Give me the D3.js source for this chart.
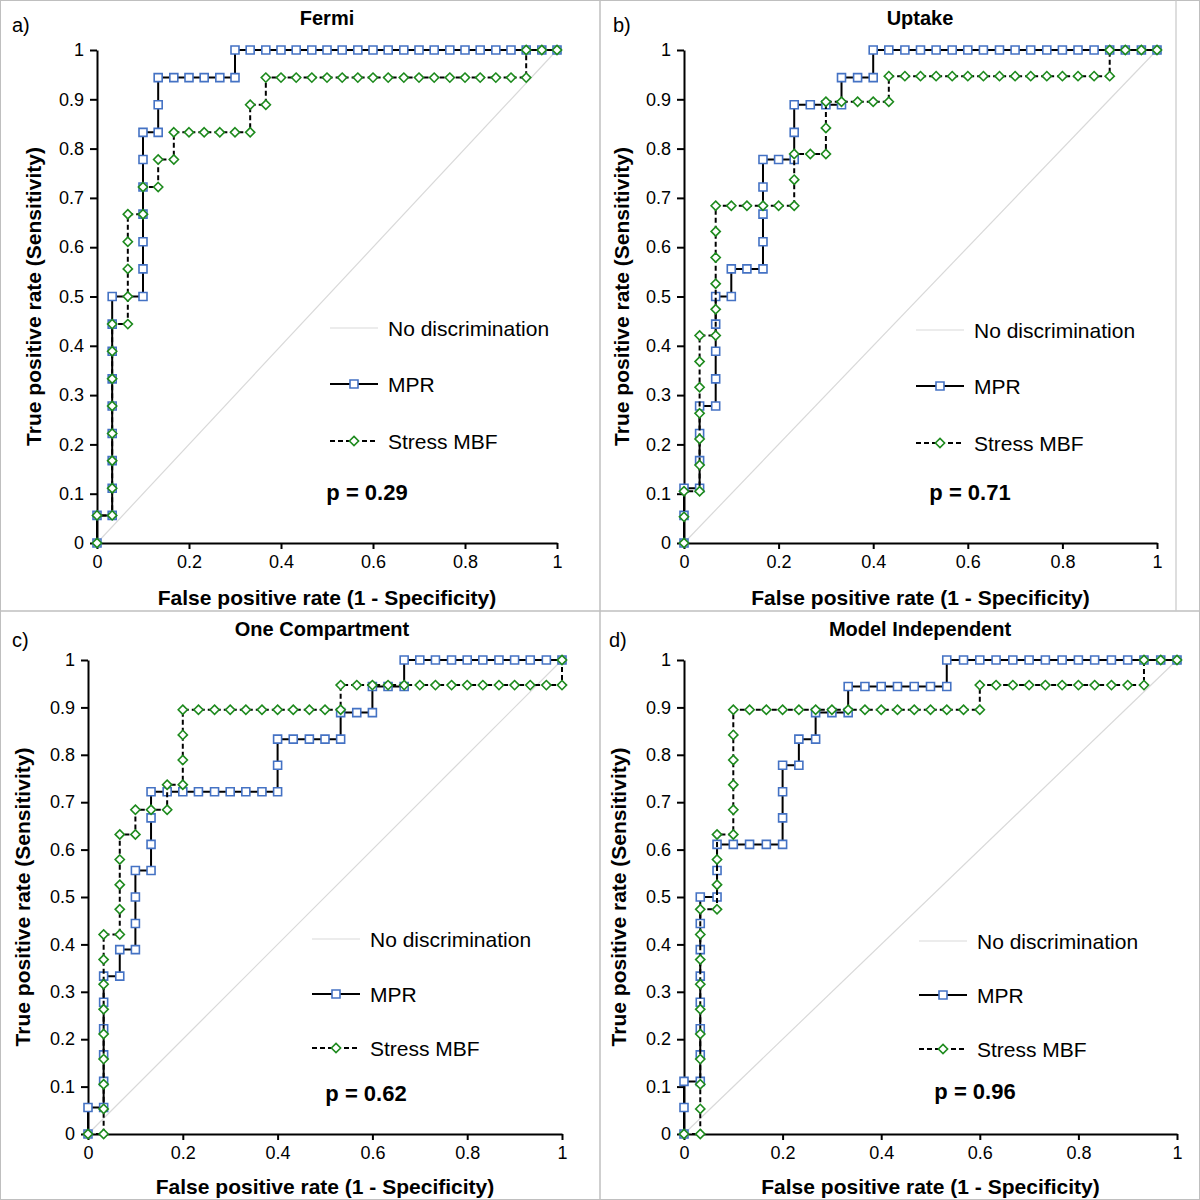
<!DOCTYPE html>
<html><head><meta charset="utf-8">
<script src="https://cdn.jsdelivr.net/npm/d3@7"></script>
<style>
body{margin:0;background:#fff}
svg{display:block}
text{font-family:"Liberation Sans",Arial,sans-serif;fill:#000}
</style>
</head><body>
<svg id="chart" width="1200" height="1200"></svg>
<script>
// ---------- data ----------
const xTickValues = [0, 0.2, 0.4, 0.6, 0.8, 1];
const yTickValues = [0, 0.1, 0.2, 0.3, 0.4, 0.5, 0.6, 0.7, 0.8, 0.9, 1];
const panelLetters = ["a)", "b)", "c)", "d)"];
const panelTitles = ["Fermi", "Uptake", "One Compartment", "Model Independent"];
const pValues = ["p = 0.29", "p = 0.71", "p = 0.62", "p = 0.96"];
const seriesNames = ["No discrimination", "MPR", "Stress MBF"];
const xAxisTitle = "False positive rate (1 - Specificity)";
const yAxisTitle = "True positive rate (Sensitivity)";
const noDiscrimination = [[0, 0], [1, 1]];

const fermiMPR = [[0,0],[0,.056],[.033,.056],[.033,.111],[.033,.167],[.033,.222],[.033,.278],[.033,.333],[.033,.389],[.033,.444],[.033,.5],[.1,.5],[.1,.556],[.1,.611],[.1,.667],[.1,.722],[.1,.778],[.1,.833],[.133,.833],[.133,.889],[.133,.944],[.167,.944],[.2,.944],[.233,.944],[.267,.944],[.3,.944],[.3,1],[.333,1],[.367,1],[.4,1],[.433,1],[.467,1],[.5,1],[.533,1],[.567,1],[.6,1],[.633,1],[.667,1],[.7,1],[.733,1],[.767,1],[.8,1],[.833,1],[.867,1],[.9,1],[.933,1],[.967,1],[1,1]];
const fermiMBF = [[0,0],[0,.056],[.033,.056],[.033,.111],[.033,.167],[.033,.222],[.033,.278],[.033,.333],[.033,.389],[.033,.444],[.067,.444],[.067,.5],[.067,.556],[.067,.611],[.067,.667],[.1,.667],[.1,.722],[.133,.722],[.133,.778],[.167,.778],[.167,.833],[.2,.833],[.233,.833],[.267,.833],[.3,.833],[.333,.833],[.333,.889],[.367,.889],[.367,.944],[.4,.944],[.433,.944],[.467,.944],[.5,.944],[.533,.944],[.567,.944],[.6,.944],[.633,.944],[.667,.944],[.7,.944],[.733,.944],[.767,.944],[.8,.944],[.833,.944],[.867,.944],[.9,.944],[.933,.944],[.933,1],[.967,1],[1,1]];
const uptakeMPR = [[0,0],[0,.056],[0,.111],[.033,.111],[.033,.167],[.033,.222],[.033,.278],[.067,.278],[.067,.333],[.067,.389],[.067,.444],[.067,.5],[.1,.5],[.1,.556],[.133,.556],[.167,.556],[.167,.611],[.167,.667],[.167,.722],[.167,.778],[.2,.778],[.233,.778],[.233,.833],[.233,.889],[.267,.889],[.3,.889],[.333,.889],[.333,.944],[.367,.944],[.4,.944],[.4,1],[.433,1],[.467,1],[.5,1],[.533,1],[.567,1],[.6,1],[.633,1],[.667,1],[.7,1],[.733,1],[.767,1],[.8,1],[.833,1],[.867,1],[.9,1],[.933,1],[.967,1],[1,1]];
const uptakeMBF = [[0,0],[0,.053],[0,.105],[.033,.105],[.033,.158],[.033,.211],[.033,.263],[.033,.316],[.033,.368],[.033,.421],[.067,.421],[.067,.474],[.067,.526],[.067,.579],[.067,.632],[.067,.684],[.1,.684],[.133,.684],[.167,.684],[.2,.684],[.233,.684],[.233,.737],[.233,.789],[.267,.789],[.3,.789],[.3,.842],[.3,.895],[.333,.895],[.367,.895],[.4,.895],[.433,.895],[.433,.947],[.467,.947],[.5,.947],[.533,.947],[.567,.947],[.6,.947],[.633,.947],[.667,.947],[.7,.947],[.733,.947],[.767,.947],[.8,.947],[.833,.947],[.867,.947],[.9,.947],[.9,1],[.933,1],[.967,1],[1,1]];
const compartmentMPR = [[0,0],[0,.056],[.033,.056],[.033,.111],[.033,.167],[.033,.222],[.033,.278],[.033,.333],[.067,.333],[.067,.389],[.1,.389],[.1,.444],[.1,.5],[.1,.556],[.133,.556],[.133,.611],[.133,.667],[.133,.722],[.167,.722],[.2,.722],[.233,.722],[.267,.722],[.3,.722],[.333,.722],[.367,.722],[.4,.722],[.4,.778],[.4,.833],[.433,.833],[.467,.833],[.5,.833],[.533,.833],[.533,.889],[.567,.889],[.6,.889],[.6,.944],[.633,.944],[.667,.944],[.667,1],[.7,1],[.733,1],[.767,1],[.8,1],[.833,1],[.867,1],[.9,1],[.933,1],[.967,1],[1,1]];
const compartmentMBF = [[0,0],[.033,0],[.033,.053],[.033,.105],[.033,.158],[.033,.211],[.033,.263],[.033,.316],[.033,.368],[.033,.421],[.067,.421],[.067,.474],[.067,.526],[.067,.579],[.067,.632],[.1,.632],[.1,.684],[.133,.684],[.167,.684],[.167,.737],[.2,.737],[.2,.789],[.2,.842],[.2,.895],[.233,.895],[.267,.895],[.3,.895],[.333,.895],[.367,.895],[.4,.895],[.433,.895],[.467,.895],[.5,.895],[.533,.895],[.533,.947],[.567,.947],[.6,.947],[.633,.947],[.667,.947],[.7,.947],[.733,.947],[.767,.947],[.8,.947],[.833,.947],[.867,.947],[.9,.947],[.933,.947],[.967,.947],[1,.947],[1,1]];
const independentMPR = [[0,0],[0,.056],[0,.111],[.033,.111],[.033,.167],[.033,.222],[.033,.278],[.033,.333],[.033,.389],[.033,.444],[.033,.5],[.067,.5],[.067,.556],[.067,.611],[.1,.611],[.133,.611],[.167,.611],[.2,.611],[.2,.667],[.2,.722],[.2,.778],[.233,.778],[.233,.833],[.267,.833],[.267,.889],[.3,.889],[.333,.889],[.333,.944],[.367,.944],[.4,.944],[.433,.944],[.467,.944],[.5,.944],[.533,.944],[.533,1],[.567,1],[.6,1],[.633,1],[.667,1],[.7,1],[.733,1],[.767,1],[.8,1],[.833,1],[.867,1],[.9,1],[.933,1],[.967,1],[1,1]];
const independentMBF = [[0,0],[.033,0],[.033,.053],[.033,.105],[.033,.158],[.033,.211],[.033,.263],[.033,.316],[.033,.368],[.033,.421],[.033,.474],[.067,.474],[.067,.526],[.067,.579],[.067,.632],[.1,.632],[.1,.684],[.1,.737],[.1,.789],[.1,.842],[.1,.895],[.133,.895],[.167,.895],[.2,.895],[.233,.895],[.267,.895],[.3,.895],[.333,.895],[.367,.895],[.4,.895],[.433,.895],[.467,.895],[.5,.895],[.533,.895],[.567,.895],[.6,.895],[.6,.947],[.633,.947],[.667,.947],[.7,.947],[.733,.947],[.767,.947],[.8,.947],[.833,.947],[.867,.947],[.9,.947],[.933,.947],[.933,1],[.967,1],[1,1]];

// ---------- layout ----------
const panels = [
  {mpr: fermiMPR, mbf: fermiMBF, l: 97, r: 557, t: 50, b: 543, letter: [12, 25], title: [327, 18], yLab: 33, xLab: 597, leg: [388, 328, 384, 441], p: [367, 492]},
  {mpr: uptakeMPR, mbf: uptakeMBF, l: 684, r: 1157, t: 50, b: 543, letter: [613, 25], title: [920, 18], yLab: 621, xLab: 597, leg: [974, 330, 386, 443], p: [970, 492]},
  {mpr: compartmentMPR, mbf: compartmentMBF, l: 88, r: 562, t: 660, b: 1134, letter: [12, 640], title: [322, 629], yLab: 22, xLab: 1186, leg: [370, 939, 994, 1048], p: [366, 1093]},
  {mpr: independentMPR, mbf: independentMBF, l: 684, r: 1177, t: 660, b: 1134, letter: [609, 640], title: [920, 629], yLab: 618, xLab: 1186, leg: [977, 941, 995, 1049], p: [975, 1091]}
];

const BLUE = "#4472c4", GREEN = "#1d8a1d", GREY = "#d9d9d9";
const svg = d3.select("#chart");

// frame lines
svg.append("rect").attr("x", 0.5).attr("y", 0.5).attr("width", 1199).attr("height", 1199)
  .attr("fill", "none").attr("stroke", "#bfbfbf");
svg.append("line").attr("x1", 600).attr("x2", 600).attr("y1", 0).attr("y2", 1200).attr("stroke", "#bfbfbf").attr("stroke-width", 1.5);
svg.append("line").attr("x1", 0).attr("x2", 1200).attr("y1", 611).attr("y2", 611).attr("stroke", "#bfbfbf").attr("stroke-width", 1.5);
svg.append("line").attr("x1", 1176).attr("x2", 1176).attr("y1", 0).attr("y2", 611).attr("stroke", "#c8c8c8").attr("stroke-width", 1.2);

const fmt = d => String(+d.toFixed(1));
const SQ = 4;   // half side of square marker
const DM = 4.6; // half diagonal of diamond marker
const squarePath = `M${-SQ},${-SQ}H${SQ}V${SQ}H${-SQ}Z`;
const diamondPath = `M0,${-DM}L${DM},0L0,${DM}L${-DM},0Z`;

panels.forEach((P, i) => {
  const x = d3.scaleLinear().domain([0, 1]).range([P.l, P.r]);
  const y = d3.scaleLinear().domain([0, 1]).range([P.b, P.t]);
  const g = svg.append("g");

  // diagonal
  const line = d3.line().x(d => x(d[0])).y(d => y(d[1]));
  g.append("path").attr("d", line(noDiscrimination)).attr("fill", "none")
    .attr("stroke", GREY).attr("stroke-width", 1.2);

  // axes
  const ya = g.append("g").attr("transform", `translate(${P.l},0)`)
    .call(d3.axisLeft(y).tickValues(yTickValues).tickFormat(fmt).tickSize(7).tickSizeOuter(0).tickPadding(6));
  const xa = g.append("g").attr("transform", `translate(0,${P.b})`)
    .call(d3.axisBottom(x).tickValues(xTickValues).tickFormat(fmt).tickSize(6).tickSizeOuter(0).tickPadding(6));
  [ya, xa].forEach(a => {
    a.select(".domain").attr("stroke", "#000").attr("stroke-width", 2);
    a.selectAll(".tick line").attr("stroke", "#000").attr("stroke-width", 2);
    a.selectAll(".tick text").attr("font-size", 18).attr("font-family", "Liberation Sans, Arial, sans-serif").attr("fill", "#000");
  });

  // MPR series
  g.append("path").attr("d", line(P.mpr)).attr("fill", "none").attr("stroke", "#000").attr("stroke-width", 2);
  g.selectAll(".sq").data(P.mpr).join("path").attr("class", "sq")
    .attr("d", squarePath).attr("transform", d => `translate(${x(d[0])},${y(d[1])})`)
    .attr("fill", "#fff").attr("stroke", BLUE).attr("stroke-width", 1.6);
  // Stress MBF series
  g.append("path").attr("d", line(P.mbf)).attr("fill", "none").attr("stroke", "#000")
    .attr("stroke-width", 2).attr("stroke-dasharray", "5,3");
  g.selectAll(".dm").data(P.mbf).join("path").attr("class", "dm")
    .attr("d", diamondPath).attr("transform", d => `translate(${x(d[0])},${y(d[1])})`)
    .attr("fill", "#fff").attr("stroke", GREEN).attr("stroke-width", 1.6);

  // texts
  g.append("text").attr("x", P.letter[0]).attr("y", P.letter[1]).attr("dominant-baseline", "central")
    .attr("font-size", 20).text(panelLetters[i]);
  g.append("text").attr("x", P.title[0]).attr("y", P.title[1]).attr("dominant-baseline", "central")
    .attr("text-anchor", "middle").attr("font-size", 20).attr("font-weight", "bold").text(panelTitles[i]);
  g.append("text").attr("transform", `translate(${P.yLab},${(P.t + P.b) / 2}) rotate(-90)`)
    .attr("dominant-baseline", "central").attr("text-anchor", "middle")
    .attr("font-size", 21).attr("font-weight", "bold").text(yAxisTitle);
  g.append("text").attr("x", (P.l + P.r) / 2).attr("y", P.xLab).attr("dominant-baseline", "central")
    .attr("text-anchor", "middle").attr("font-size", 21).attr("font-weight", "bold").text(xAxisTitle);

  // legend
  const lx = P.leg[0];
  const legY = P.leg.slice(1);
  legY.forEach((ly, k) => {
    const lg = g.append("g");
    const s = lg.append("line").attr("x1", lx - 58).attr("x2", lx - 10).attr("y1", ly).attr("y2", ly);
    if (k === 0) s.attr("stroke", GREY).attr("stroke-width", 1.2);
    if (k === 1) {
      s.attr("stroke", "#000").attr("stroke-width", 2);
      lg.append("path").attr("d", squarePath).attr("transform", `translate(${lx - 34},${ly})`)
        .attr("fill", "#fff").attr("stroke", BLUE).attr("stroke-width", 1.6);
    }
    if (k === 2) {
      s.attr("stroke", "#000").attr("stroke-width", 2).attr("stroke-dasharray", "5,3");
      lg.append("path").attr("d", diamondPath).attr("transform", `translate(${lx - 34},${ly})`)
        .attr("fill", "#fff").attr("stroke", GREEN).attr("stroke-width", 1.6);
    }
    lg.append("text").attr("x", lx).attr("y", ly).attr("dominant-baseline", "central")
      .attr("font-size", 21).text(seriesNames[k]);
  });
  g.append("text").attr("x", P.p[0]).attr("y", P.p[1]).attr("dominant-baseline", "central")
    .attr("text-anchor", "middle").attr("font-size", 22).attr("font-weight", "bold").text(pValues[i]);
});
</script>
</body></html>
